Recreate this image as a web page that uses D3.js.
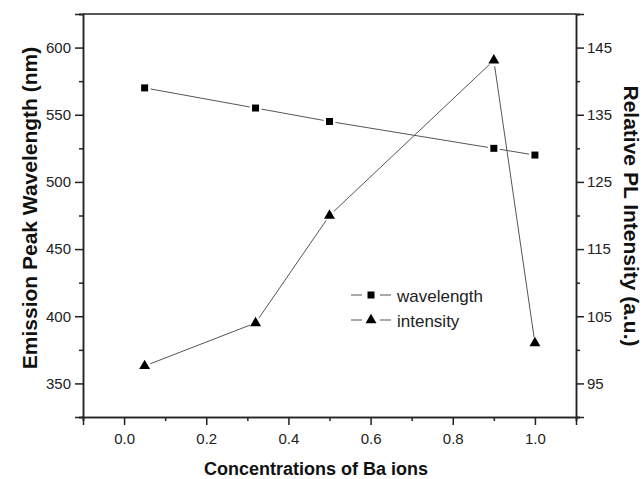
<!DOCTYPE html>
<html>
<head>
<meta charset="utf-8">
<script src="https://d3js.org/d3.v7.min.js"></script>
<style>
  body { margin: 0; background: #fff; }
  svg { font-family: Arial, "Liberation Sans", sans-serif; }
</style>
</head>
<body>
<svg width="643" height="479"></svg>
<script>
var concentration = [0.05, 0.32, 0.5, 0.9, 1.0];
var wavelength = [570, 555, 545, 525, 520];
var intensity = [97.6, 104, 120, 143.1, 101];
var xTicks = [0.0, 0.2, 0.4, 0.6, 0.8, 1.0];
var leftTicks = [350, 400, 450, 500, 550, 600];
var rightTicks = [95, 105, 115, 125, 135, 145];

var svg = d3.select("svg");
var pLeft = 83, pRight = 576, pTop = 14, pBottom = 417;

var x = d3.scaleLinear().domain([-0.1, 1.1]).range([pLeft, pRight]);
var yL = d3.scaleLinear().domain([325, 625]).range([pBottom, pTop]);
var yR = d3.scaleLinear().domain([90, 150]).range([pBottom, pTop]);

// frame top line
svg.append("line")
    .attr("x1", pLeft).attr("x2", pRight)
    .attr("y1", pTop).attr("y2", pTop)
    .attr("stroke", "#222").attr("stroke-width", 1.5);

function styleAxis(g) {
  g.selectAll("path,line").attr("stroke", "#222").attr("stroke-width", 1.5);
  g.selectAll("text").attr("font-size", 15).attr("fill", "#222");
}

// minor ticks
svg.append("g")
    .attr("transform", "translate(0," + pBottom + ")")
    .call(d3.axisBottom(x).tickValues(d3.range(-0.1, 1.11, 0.2)).tickSize(4).tickFormat(""))
    .call(styleAxis);
svg.append("g")
    .attr("transform", "translate(" + pLeft + ",0)")
    .call(d3.axisLeft(yL).tickValues(d3.range(325, 626, 50)).tickSize(4).tickFormat(""))
    .call(styleAxis);
svg.append("g")
    .attr("transform", "translate(" + pRight + ",0)")
    .call(d3.axisRight(yR).tickValues(d3.range(90, 151, 10)).tickSize(4).tickFormat(""))
    .call(styleAxis);

// major ticks
svg.append("g")
    .attr("transform", "translate(0," + pBottom + ")")
    .call(d3.axisBottom(x).tickValues(xTicks).tickSize(8).tickPadding(8).tickFormat(d3.format(".1f")))
    .call(styleAxis);
svg.append("g")
    .attr("transform", "translate(" + pLeft + ",0)")
    .call(d3.axisLeft(yL).tickValues(leftTicks).tickSize(8).tickPadding(4))
    .call(styleAxis);
svg.append("g")
    .attr("transform", "translate(" + pRight + ",0)")
    .call(d3.axisRight(yR).tickValues(rightTicks).tickSize(8).tickPadding(3))
    .call(styleAxis);

// series lines, drawn segment by segment with a small gap at each marker
function segments(vals, yScale) {
  var pts = vals.map(function(v, i) { return [x(concentration[i]), yScale(v)]; });
  return d3.pairs(pts).map(function(p) {
    var dx = p[1][0] - p[0][0], dy = p[1][1] - p[0][1];
    var len = Math.sqrt(dx * dx + dy * dy), gap = 6;
    return {
      x1: p[0][0] + dx / len * gap, y1: p[0][1] + dy / len * gap,
      x2: p[1][0] - dx / len * gap, y2: p[1][1] - dy / len * gap
    };
  });
}

[[wavelength, yL], [intensity, yR]].forEach(function(s) {
  svg.append("g").selectAll("line").data(segments(s[0], s[1])).enter().append("line")
      .attr("x1", function(d) { return d.x1; }).attr("y1", function(d) { return d.y1; })
      .attr("x2", function(d) { return d.x2; }).attr("y2", function(d) { return d.y2; })
      .attr("stroke", "#555").attr("stroke-width", 1);
});

var square = d3.symbol().type(d3.symbolSquare).size(49);
var triangle = d3.symbol().type(d3.symbolTriangle).size(52);

svg.selectAll(".sq").data(wavelength).enter().append("path")
    .attr("class", "sq")
    .attr("d", square)
    .attr("transform", function(d, i) { return "translate(" + x(concentration[i]) + "," + yL(d) + ")"; })
    .attr("fill", "#000");

svg.selectAll(".tri").data(intensity).enter().append("path")
    .attr("class", "tri")
    .attr("d", triangle)
    .attr("transform", function(d, i) { return "translate(" + x(concentration[i]) + "," + yR(d) + ")"; })
    .attr("fill", "#000");

// legend
var legend = [
  { name: "wavelength", sym: square },
  { name: "intensity", sym: triangle }
];
var lg = svg.selectAll(".lg").data(legend).enter().append("g")
    .attr("class", "lg")
    .attr("transform", function(d, i) { return "translate(351," + (295 + i * 25) + ")"; });
lg.append("line").attr("x1", 0).attr("x2", 11).attr("y1", 0).attr("y2", 0)
    .attr("stroke", "#555").attr("stroke-width", 1);
lg.append("line").attr("x1", 29).attr("x2", 40).attr("y1", 0).attr("y2", 0)
    .attr("stroke", "#555").attr("stroke-width", 1);
lg.append("path").attr("d", function(d) { return d.sym(); })
    .attr("transform", "translate(20,0)").attr("fill", "#000");
lg.append("text").attr("x", 46).attr("y", 7)
    .attr("font-size", 17).attr("fill", "#222")
    .text(function(d) { return d.name; });

// axis titles
svg.append("text")
    .attr("x", 316).attr("y", 475)
    .attr("text-anchor", "middle")
    .attr("font-size", 18).attr("font-weight", "bold").attr("fill", "#111")
    .text("Concentrations of Ba ions");

svg.append("text")
    .attr("transform", "translate(37,208) rotate(-90)")
    .attr("text-anchor", "middle")
    .attr("font-size", 21).attr("font-weight", "bold").attr("fill", "#111")
    .text("Emission Peak Wavelength (nm)");

svg.append("text")
    .attr("transform", "translate(624,216) rotate(90)")
    .attr("text-anchor", "middle")
    .attr("font-size", 21).attr("font-weight", "bold").attr("fill", "#111")
    .text("Relative PL Intensity (a.u.)");
</script>
</body>
</html>
